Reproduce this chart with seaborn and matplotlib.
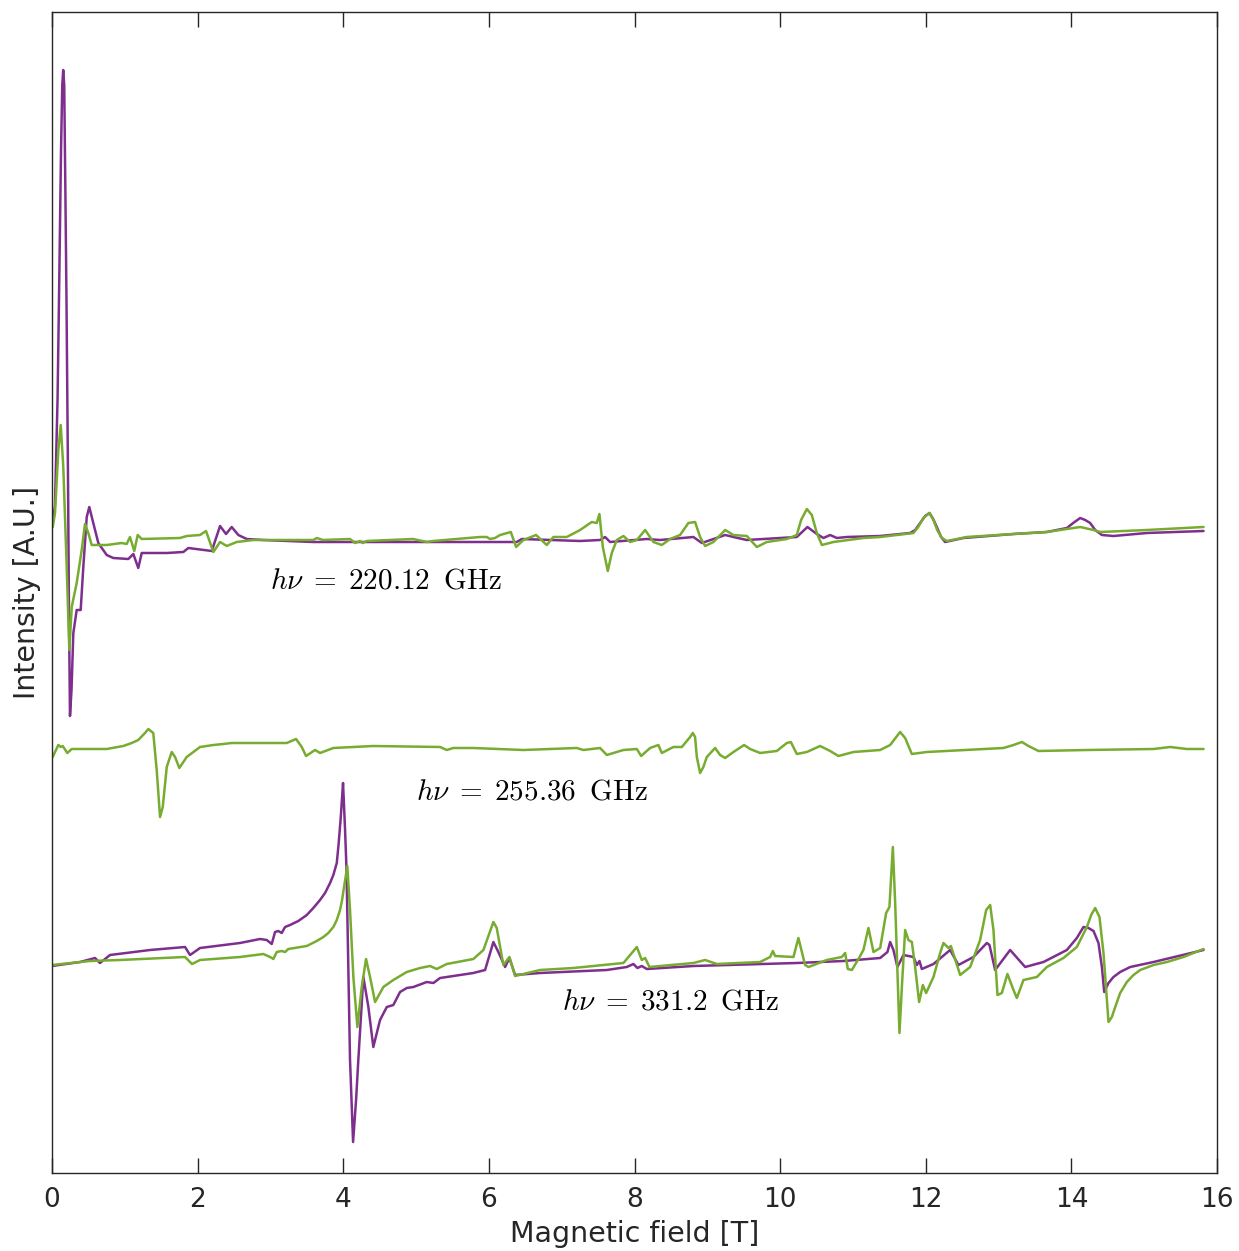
import numpy as np
import pandas as pd
import matplotlib
matplotlib.use("Agg")
import matplotlib.pyplot as plt
import seaborn as sns

# ---------------- data (field in T, intensity in arbitrary units) ----------------
# 220.12 GHz, purple
f220_p = [0.000, 0.041, 0.076, 0.096, 0.124, 0.141, 0.154, 0.168, 0.185, 0.199, 0.220, 0.234, 0.247, 0.268,
          0.293, 0.339, 0.394, 0.430, 0.477, 0.512, 0.567, 0.636, 0.751, 0.842, 1.048, 1.117, 1.185, 1.232,
          1.301, 1.576, 1.804, 1.872, 2.194, 2.308, 2.390, 2.468, 2.559, 2.674, 2.898, 3.585, 4.135, 4.959,
          5.879, 6.383, 6.452, 7.253, 7.527, 7.596, 7.665, 8.169, 8.352, 8.809, 8.925, 9.245, 9.359, 9.543,
          10.229, 10.375, 10.504, 10.595, 10.687, 10.779, 10.916, 11.374, 11.786, 11.855, 11.923, 11.992,
          12.051, 12.102, 12.152, 12.211, 12.266, 12.518, 13.205, 13.663, 13.938, 14.025, 14.121, 14.190,
          14.258, 14.327, 14.419, 14.578, 15.037, 15.815]
i220_p = [6.45, 6.68, 7.73, 8.73, 10.23, 10.88, 11.03, 10.88, 9.73, 8.73, 6.93, 5.53, 4.57, 4.83,
          5.40, 5.63, 5.63, 6.06, 6.56, 6.66, 6.50, 6.30, 6.18, 6.15, 6.14, 6.19, 6.05, 6.20,
          6.20, 6.20, 6.21, 6.25, 6.22, 6.47, 6.39, 6.46, 6.38, 6.34, 6.33, 6.31, 6.31, 6.31,
          6.31, 6.31, 6.34, 6.32, 6.33, 6.36, 6.31, 6.34, 6.33, 6.36, 6.30, 6.38, 6.36, 6.33,
          6.36, 6.46, 6.39, 6.35, 6.38, 6.35, 6.36, 6.37, 6.40, 6.43, 6.50, 6.57,
          6.60, 6.54, 6.46, 6.36, 6.31, 6.35, 6.39, 6.41, 6.45, 6.50, 6.55, 6.53,
          6.50, 6.43, 6.38, 6.37, 6.40, 6.42]

# 220.12 GHz, green
f220_g = [0.010, 0.041, 0.087, 0.120, 0.155, 0.202, 0.238, 0.271, 0.339, 0.408, 0.453, 0.499, 0.545, 0.751,
          0.957, 1.026, 1.071, 1.130, 1.177, 1.232, 1.758, 1.850, 2.033, 2.115, 2.216, 2.308, 2.400, 2.537,
          2.765, 3.589, 3.636, 3.723, 4.093, 4.162, 4.231, 4.268, 4.323, 4.959, 5.147, 5.234, 5.879, 5.971,
          6.016, 6.085, 6.154, 6.301, 6.374, 6.474, 6.648, 6.795, 6.886, 7.070, 7.253, 7.413, 7.482, 7.518,
          7.565, 7.633, 7.688, 7.757, 7.848, 7.940, 8.032, 8.146, 8.260, 8.375, 8.489, 8.626, 8.740, 8.832,
          8.901, 8.970, 9.084, 9.245, 9.359, 9.543, 9.680, 9.817, 10.092, 10.229, 10.288, 10.367, 10.435,
          10.504, 10.573, 10.732, 11.144, 11.374, 11.831, 11.896, 11.968, 12.051, 12.106, 12.157, 12.221,
          12.290, 12.565, 13.205, 13.663, 13.938, 14.121, 14.304, 14.396, 15.037, 15.815]
i220_g = [6.46, 6.60, 7.23, 7.48, 7.06, 6.06, 5.23, 5.66, 5.90, 6.23, 6.49, 6.40, 6.28, 6.28,
          6.30, 6.29, 6.36, 6.22, 6.38, 6.34, 6.35, 6.37, 6.38, 6.42, 6.21, 6.31, 6.27, 6.31,
          6.33, 6.33, 6.35, 6.33, 6.34, 6.30, 6.32, 6.30, 6.32, 6.34, 6.31, 6.32, 6.36, 6.36,
          6.34, 6.35, 6.38, 6.41, 6.26, 6.33, 6.38, 6.28, 6.36, 6.36, 6.43, 6.51, 6.50, 6.59,
          6.26, 6.02, 6.20, 6.33, 6.37, 6.31, 6.33, 6.43, 6.31, 6.28, 6.34, 6.38, 6.50, 6.51,
          6.36, 6.27, 6.31, 6.43, 6.38, 6.37, 6.26, 6.31, 6.34, 6.38, 6.53, 6.64, 6.58,
          6.40, 6.28, 6.31, 6.35, 6.36, 6.40, 6.46, 6.55, 6.60, 6.53, 6.43, 6.35,
          6.32, 6.36, 6.39, 6.41, 6.44, 6.46, 6.43, 6.41, 6.43, 6.46]

# 255.36 GHz, green
f255_g = [0.010, 0.041, 0.087, 0.120, 0.147, 0.210, 0.271, 0.751, 0.979, 1.095, 1.185, 1.277, 1.323, 1.391,
          1.438, 1.484, 1.521, 1.576, 1.644, 1.690, 1.749, 1.850, 2.033, 2.216, 2.353, 2.468, 2.582, 3.224,
          3.352, 3.430, 3.489, 3.613, 3.681, 3.864, 4.413, 5.330, 5.422, 5.512, 5.787, 6.474, 7.207, 7.298,
          7.527, 7.620, 7.848, 8.032, 8.091, 8.214, 8.328, 8.375, 8.534, 8.650, 8.764, 8.801, 8.832, 8.856,
          8.901, 8.946, 8.993, 9.107, 9.176, 9.245, 9.359, 9.505, 9.588, 9.725, 9.954, 10.092, 10.147,
          10.229, 10.367, 10.549, 10.687, 10.801, 11.007, 11.374, 11.511, 11.648, 11.717, 11.809, 12.015,
          13.067, 13.205, 13.320, 13.411, 13.548, 14.213, 15.128, 15.357, 15.586, 15.815]
i255_g = [4.16, 4.21, 4.28, 4.26, 4.27, 4.20, 4.24, 4.24, 4.27, 4.30, 4.33, 4.40, 4.44, 4.40,
          4.03, 3.56, 3.66, 4.06, 4.21, 4.16, 4.05, 4.16, 4.26, 4.28, 4.29, 4.30, 4.30, 4.30,
          4.34, 4.26, 4.17, 4.23, 4.20, 4.25, 4.27, 4.26, 4.23, 4.25, 4.25, 4.23, 4.25, 4.23,
          4.25, 4.18, 4.23, 4.24, 4.17, 4.25, 4.28, 4.20, 4.26, 4.26, 4.36, 4.40, 4.36, 4.16,
          4.00, 4.06, 4.16, 4.25, 4.18, 4.15, 4.21, 4.28, 4.24, 4.20, 4.22, 4.30, 4.31,
          4.19, 4.21, 4.27, 4.22, 4.17, 4.21, 4.23, 4.28, 4.41, 4.35, 4.19, 4.21,
          4.25, 4.28, 4.31, 4.27, 4.22, 4.23, 4.24, 4.26, 4.24, 4.24]

# 331.2 GHz, purple
f331_p = [0.000, 0.385, 0.591, 0.659, 0.797, 1.346, 1.827, 1.896, 2.033, 2.582, 2.857, 2.949, 3.018, 3.063,
          3.109, 3.155, 3.201, 3.269, 3.383, 3.499, 3.589, 3.681, 3.750, 3.819, 3.864, 3.911, 3.935, 3.963,
          3.977, 3.997, 4.025, 4.045, 4.093, 4.135, 4.176, 4.207, 4.276, 4.345, 4.413, 4.505, 4.598, 4.688,
          4.780, 4.872, 4.963, 5.147, 5.238, 5.330, 5.787, 5.948, 6.062, 6.130, 6.223, 6.282, 6.360, 6.703,
          7.620, 7.894, 7.985, 8.040, 8.100, 8.169, 8.809, 10.229, 10.870, 11.374, 11.474, 11.511, 11.556,
          11.611, 11.694, 11.831, 11.878, 11.914, 11.946, 12.106, 12.335, 12.449, 12.655, 12.839, 12.875,
          12.953, 13.159, 13.365, 13.617, 13.938, 14.075, 14.166, 14.235, 14.304, 14.372, 14.419, 14.451,
          14.510, 14.578, 14.670, 14.808, 15.128, 15.815]
i331_p = [2.07, 2.11, 2.15, 2.10, 2.18, 2.23, 2.26, 2.18, 2.25, 2.30, 2.34, 2.33, 2.29, 2.41,
          2.42, 2.40, 2.46, 2.48, 2.52, 2.58, 2.65, 2.73, 2.80, 2.90, 2.98, 3.10, 3.28, 3.53,
          3.68, 3.90, 3.43, 3.03, 1.13, 0.31, 0.73, 1.13, 1.96, 1.66, 1.26, 1.53, 1.66, 1.68,
          1.81, 1.85, 1.86, 1.91, 1.90, 1.95, 2.00, 2.03, 2.31, 2.21, 2.06, 2.15, 1.98, 2.00,
          2.03, 2.06, 2.09, 2.05, 2.07, 2.04, 2.07, 2.10, 2.12, 2.15, 2.21, 2.31, 2.23,
          2.06, 2.18, 2.16, 2.08, 2.12, 2.04, 2.09, 2.23, 2.08, 2.16, 2.30, 2.28,
          2.03, 2.23, 2.06, 2.11, 2.23, 2.35, 2.46, 2.45, 2.42, 2.30, 2.06, 1.81,
          1.90, 1.96, 2.01, 2.06, 2.11, 2.23]

# 331.2 GHz, green
f331_g = [0.000, 0.522, 0.934, 1.827, 1.923, 2.033, 2.582, 2.902, 2.995, 3.040, 3.087, 3.155, 3.201, 3.246,
          3.499, 3.636, 3.727, 3.795, 3.864, 3.911, 3.956, 3.984, 4.011, 4.056, 4.093, 4.139, 4.194, 4.254,
          4.313, 4.368, 4.437, 4.551, 4.688, 4.872, 5.055, 5.192, 5.284, 5.422, 5.787, 5.925, 6.062, 6.108,
          6.199, 6.282, 6.360, 6.703, 7.161, 7.848, 7.963, 8.032, 8.100, 8.146, 8.205, 8.809, 8.970, 9.130,
          9.725, 9.863, 9.900, 9.931, 10.183, 10.251, 10.343, 10.389, 10.641, 10.847, 10.893, 10.930, 10.985,
          11.076, 11.144, 11.213, 11.282, 11.374, 11.456, 11.501, 11.548, 11.580, 11.639, 11.672, 11.717,
          11.762, 11.809, 11.854, 11.909, 11.960, 12.005, 12.106, 12.198, 12.243, 12.312, 12.345, 12.473,
          12.610, 12.747, 12.830, 12.885, 12.930, 12.985, 13.045, 13.122, 13.205, 13.251, 13.342, 13.526,
          13.663, 13.891, 14.075, 14.213, 14.272, 14.327, 14.386, 14.441, 14.510, 14.556, 14.602, 14.670,
          14.762, 14.853, 14.945, 15.128, 15.312, 15.540, 15.815]
i331_g = [2.08, 2.12, 2.13, 2.16, 2.09, 2.13, 2.16, 2.19, 2.16, 2.14, 2.21, 2.22, 2.21, 2.24,
          2.27, 2.32, 2.36, 2.40, 2.46, 2.53, 2.63, 2.73, 2.86, 3.07, 2.63, 1.96, 1.46, 1.86,
          2.14, 1.96, 1.71, 1.86, 1.93, 2.01, 2.05, 2.07, 2.04, 2.09, 2.14, 2.23, 2.51, 2.45,
          2.08, 2.16, 1.97, 2.03, 2.05, 2.10, 2.20, 2.26, 2.13, 2.15, 2.06, 2.10, 2.13, 2.09,
          2.11, 2.16, 2.22, 2.17, 2.16, 2.35, 2.08, 2.06, 2.13, 2.16, 2.20, 2.04, 2.03,
          2.14, 2.23, 2.45, 2.21, 2.25, 2.60, 2.66, 3.26, 2.70, 1.40, 1.86, 2.43,
          2.33, 2.31, 2.06, 1.71, 1.88, 1.80, 1.96, 2.20, 2.30, 2.25, 2.27, 1.98,
          2.06, 2.33, 2.63, 2.68, 2.43, 1.78, 1.80, 1.99, 1.83, 1.75, 1.93, 1.96,
          2.06, 2.15, 2.26, 2.46, 2.58, 2.65, 2.56, 2.20, 1.51, 1.56, 1.66, 1.80,
          1.91, 1.98, 2.03, 2.08, 2.11, 2.16, 2.24]

labels = [r"$h\nu\;=\;220.12\;\;\mathrm{GHz}$", r"$h\nu\;=\;255.36\;\;\mathrm{GHz}$",
          r"$h\nu\;=\;331.2\;\;\mathrm{GHz}$"]
label_field = [3.0, 5.0, 7.0]
label_int = [5.93, 3.81, 1.71]
x_ticks = [0, 2, 4, 6, 8, 10, 12, 14, 16]

# ---------------- style ----------------
sns.set_theme(style="white")
plt.rcParams["font.family"] = ["DejaVu Sans"]
plt.rcParams["mathtext.fontset"] = "cm"

PURPLE = "#7E2F8E"
GREEN = "#77AC30"
DARK = "#262626"

fig = plt.figure(figsize=(12.39, 12.51), dpi=100)
ax = fig.add_axes([52 / 1239, 1 - 1173 / 1251, (1217 - 52) / 1239, (1173 - 12) / 1251])

traces = [
    (f220_p, i220_p, PURPLE),
    (f220_g, i220_g, GREEN),
    (f255_g, i255_g, GREEN),
    (f331_p, i331_p, PURPLE),
    (f331_g, i331_g, GREEN),
]
for fx, iy, col in traces:
    assert len(fx) == len(iy), (len(fx), len(iy))
    df = pd.DataFrame({"field": fx, "intensity": iy})
    sns.lineplot(data=df, x="field", y="intensity", sort=False, estimator=None,
                 color=col, linewidth=1.8, ax=ax)

for txt, xf, yi in zip(labels, label_field, label_int):
    ax.text(xf, yi, txt, fontsize=21, ha="left", va="center", color="black")

ax.set_xlim(0, 16)
ax.set_ylim(0, 11.61)
ax.set_xticks(x_ticks)
ax.set_yticks([])
ax.tick_params(axis="x", direction="in", length=11, width=1, colors=DARK,
               top=True, bottom=True, labelsize=19, pad=10)
for sp in ax.spines.values():
    sp.set_visible(True)
    sp.set_color(DARK)
    sp.set_linewidth(1.0)
ax.set_xlabel("Magnetic field [T]", fontsize=20.5, color=DARK, labelpad=5)
ax.set_ylabel("Intensity [A.U.]", fontsize=20.5, color=DARK, labelpad=8)

fig.savefig("out.png", dpi=100, facecolor="white")
